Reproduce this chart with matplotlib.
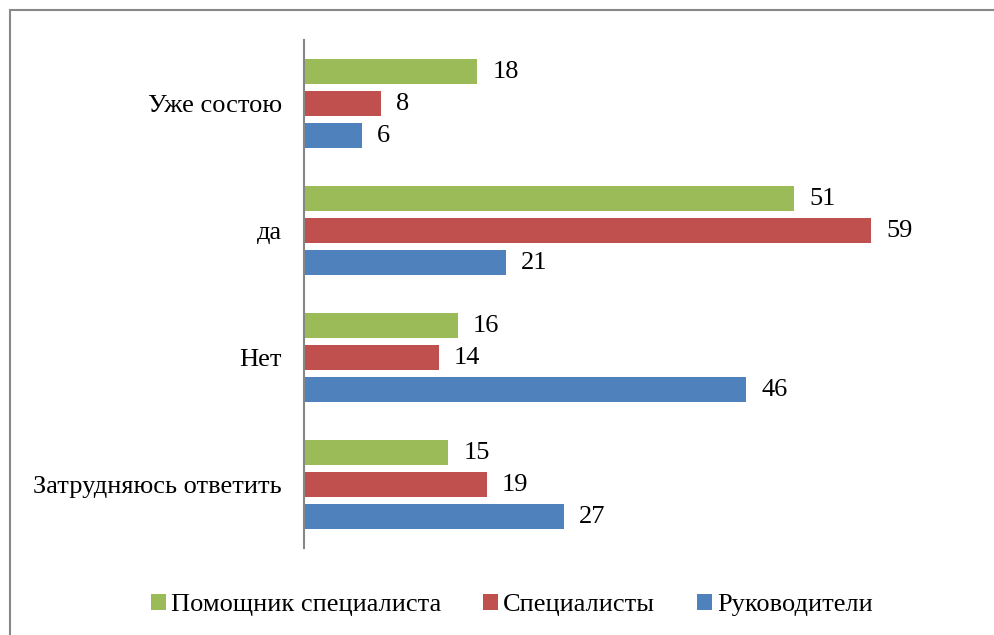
import matplotlib.pyplot as plt
from matplotlib.patches import Rectangle
import numpy as np

categories = ['Уже состою', 'да', 'Нет', 'Затрудняюсь ответить']
series_names = ['Помощник специалиста', 'Специалисты', 'Руководители']
pomoshnik = [18, 51, 16, 15]
specialisty = [8, 59, 14, 19]
rukovoditeli = [6, 21, 46, 27]
colors = ['#9BBB59', '#C0504D', '#4F81BD']

plt.rcParams['font.family'] = ['Liberation Serif', 'DejaVu Serif']

fig = plt.figure(figsize=(9.94, 6.35), dpi=100)
ax = fig.add_axes([0.3058, 0.137, 0.677, 0.800])

y = np.arange(len(categories))
step = 0.252
height = 0.197
for i, (vals, name, c) in enumerate(zip([pomoshnik, specialisty, rukovoditeli], series_names, colors)):
    pos = y + (i - 1) * step
    bars = ax.barh(pos, vals, height=height, color=c, label=name)
    for b, v in zip(bars, vals):
        ax.text(v + 1.6, b.get_y() + b.get_height() / 2, str(v),
                va='center', ha='left', fontsize=19)

ax.set_xlim(0, 70)
ax.set_ylim(3.5, -0.5)
ax.set_yticks(y)
ax.set_yticklabels(categories, fontsize=19)
ax.tick_params(axis='y', length=0, pad=16)
ax.set_xticks([])
for s in ['top', 'right', 'bottom']:
    ax.spines[s].set_visible(False)
ax.spines['left'].set_color('#868686')
ax.spines['left'].set_linewidth(1.5)

leg = fig.legend(loc='center', bbox_to_anchor=(0.515, 0.047), ncol=3, frameon=False,
                 fontsize=19, handlelength=0.55, handleheight=0.55, handletextpad=0.2,
                 columnspacing=1.6)

# рамка вокруг диаграммы
fig.patches.append(Rectangle((10 / 994, -0.1), 1.2, 1.1 - 10 / 635,
                             transform=fig.transFigure, fill=False,
                             edgecolor='#888888', linewidth=1.5))

fig.savefig('out.png', dpi=100)
